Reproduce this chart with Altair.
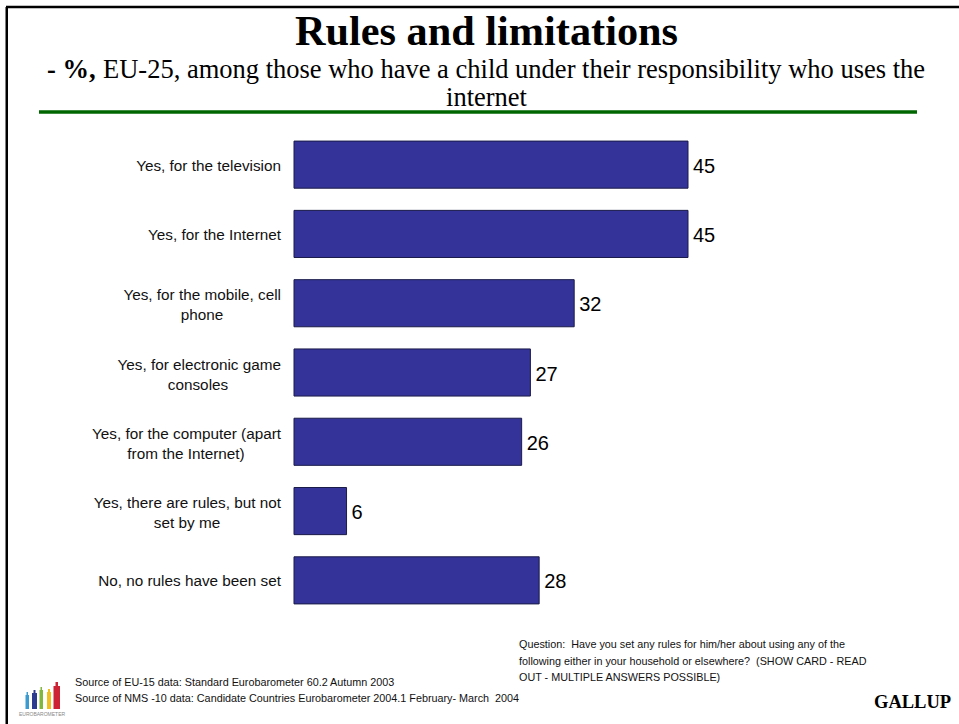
import altair as alt
import pandas as pd

# Survey answers, top to bottom, with their wrapped label lines
first_lines = [
    "Yes, for the television",
    "Yes, for the Internet",
    "Yes, for the mobile, cell",
    "Yes, for electronic game",
    "Yes, for the computer (apart",
    "Yes, there are rules, but not",
    "No, no rules have been set",
]
second_lines = ["", "", "phone", "consoles", "from the Internet)", "set by me", ""]
percentages = [45, 45, 32, 27, 26, 6, 28]

question_lines = [
    "Question:\u00a0 Have you set any rules for him/her about using any of the",
    "following either in your household or elsewhere?\u00a0 (SHOW CARD - READ",
    "OUT - MULTIPLE ANSWERS POSSIBLE)",
]
source_lines = [
    "Source of EU-15 data: Standard Eurobarometer 60.2 Autumn 2003",
    "Source of NMS -10 data: Candidate Countries Eurobarometer 2004.1 February- March\u00a0 2004",
]

W, H = 959, 724
SERIF = "Liberation Serif"
SANS = "Liberation Sans"

df = pd.DataFrame({"row": list(range(7)), "first": first_lines, "second": second_lines, "pct": percentages})
df["two"] = df["second"] != ""

x_scale = alt.Scale(domain=[0, 45], range=[294, 688], clamp=False, nice=False, zero=True)
y_scale = alt.Scale(domain=list(range(7)), range=[130, 615], paddingInner=0.32, paddingOuter=0.16)
X = alt.X("pct:Q", scale=x_scale, axis=None)
Y = alt.Y("row:O", scale=y_scale, axis=None)

bars = alt.Chart(df).mark_bar(color="#333399", stroke="#1b1b4a", strokeWidth=1).encode(x=alt.X("zero:Q", scale=x_scale, axis=None), x2="pct:Q", y=Y).transform_calculate(zero="0")
values = alt.Chart(df).mark_text(align="left", baseline="middle", font=SANS, fontSize=20, dx=5, dy=2, color="#000000").encode(x=X, y=Y, text="pct:Q")

# Category labels: single or first lines end at the right edge of the label column
label_style = dict(font=SANS, fontSize=15.3, color="#111111", baseline="middle")
single = alt.Chart(df[~df["two"]]).mark_text(align="right", dy=1, **label_style).encode(x=alt.value(281), y=Y, text="first:N")
wrapped_top = alt.Chart(df[df["two"]]).mark_text(align="right", dy=-8, **label_style).encode(x=alt.value(281), y=Y, text="first:N")
# Second lines sit centred under their first line
under_centres = {2: 202, 3: 198, 4: 186, 5: 187}
wrapped_bottom = [
    alt.Chart(df[df["row"] == r]).mark_text(align="center", dy=12, **label_style).encode(x=alt.value(cx), y=Y, text="second:N")
    for r, cx in under_centres.items()
]


def text_at(content, x, y, align="left", **style):
    return alt.Chart(pd.DataFrame({"t": [content]})).mark_text(align=align, baseline="alphabetic", **style).encode(
        x=alt.value(x), y=alt.value(y), text="t:N"
    )


def frame_line(x1, y1, x2, y2, color, width):
    return alt.Chart(pd.DataFrame({"a": [0]})).mark_rule(color=color, strokeWidth=width).encode(
        x=alt.value(x1), x2=alt.value(x2), y=alt.value(y1), y2=alt.value(y2)
    )


def logo_block(x1, y1, x2, y2, color):
    return alt.Chart(pd.DataFrame({"a": [0]})).mark_rect(color=color).encode(
        x=alt.value(x1), x2=alt.value(x2), y=alt.value(y1), y2=alt.value(y2)
    )


frame = [frame_line(6, 7, 959, 7, "#000000", 2.5), frame_line(6.75, 7, 6.75, 724, "#000000", 2.5)]
heading = [
    text_at("Rules and limitations", 486.5, 45, align="center", font=SERIF, fontSize=42.3, fontWeight="bold", color="#000000"),
    text_at("- %,", 47, 77.5, font=SERIF, fontSize=26.5, fontWeight="bold", color="#000000"),
    text_at("EU-25, among those who have a child under their responsibility who uses the", 103, 77.5, font=SERIF, fontSize=26.5, color="#000000"),
    text_at("internet", 486.5, 106, align="center", font=SERIF, fontSize=26.5, color="#000000"),
    frame_line(39, 112, 917, 112, "#006600", 3.5),
]
notes = [
    text_at(line, 519, 648 + i * 16.5, font=SANS, fontSize=10.8, color="#111111") for i, line in enumerate(question_lines)
] + [
    text_at(line, 75, 686 + i * 16, font=SANS, fontSize=10.8, color="#111111") for i, line in enumerate(source_lines)
] + [text_at("GALLUP", 874, 708, font=SERIF, fontSize=18.5, fontWeight="bold", color="#000000")]

# Eurobarometer mark: a row of coloured bottles over a tiny wordmark
logo = [
    logo_block(25.5, 695, 29, 709, "#3a9bd0"),
    logo_block(26.5, 692, 28, 695, "#3a9bd0"),
    logo_block(32, 693, 37, 709, "#2c3a8f"),
    logo_block(33.5, 690, 35.5, 693, "#2c3a8f"),
    logo_block(39.5, 690, 43, 709, "#7fb83d"),
    logo_block(40.5, 687, 42, 690, "#7fb83d"),
    logo_block(47, 692, 51, 709, "#f0c020"),
    logo_block(48, 689, 50, 692, "#f0c020"),
    logo_block(53.5, 686, 60, 709, "#cc2233"),
    logo_block(55.5, 682, 58, 686, "#cc2233"),
    text_at("EUROBAROMETER", 19, 716, font=SANS, fontSize=5, color="#888888"),
]

layers = [bars, values, single, wrapped_top] + wrapped_bottom + frame + heading + notes + logo
chart = alt.layer(*layers).properties(
    width=W, height=H, padding=0, autosize=alt.AutoSizeParams(type="none"), background="#ffffff"
).configure_view(stroke=None)

chart.save("out.html", embed_options={"renderer": "svg", "actions": False})
